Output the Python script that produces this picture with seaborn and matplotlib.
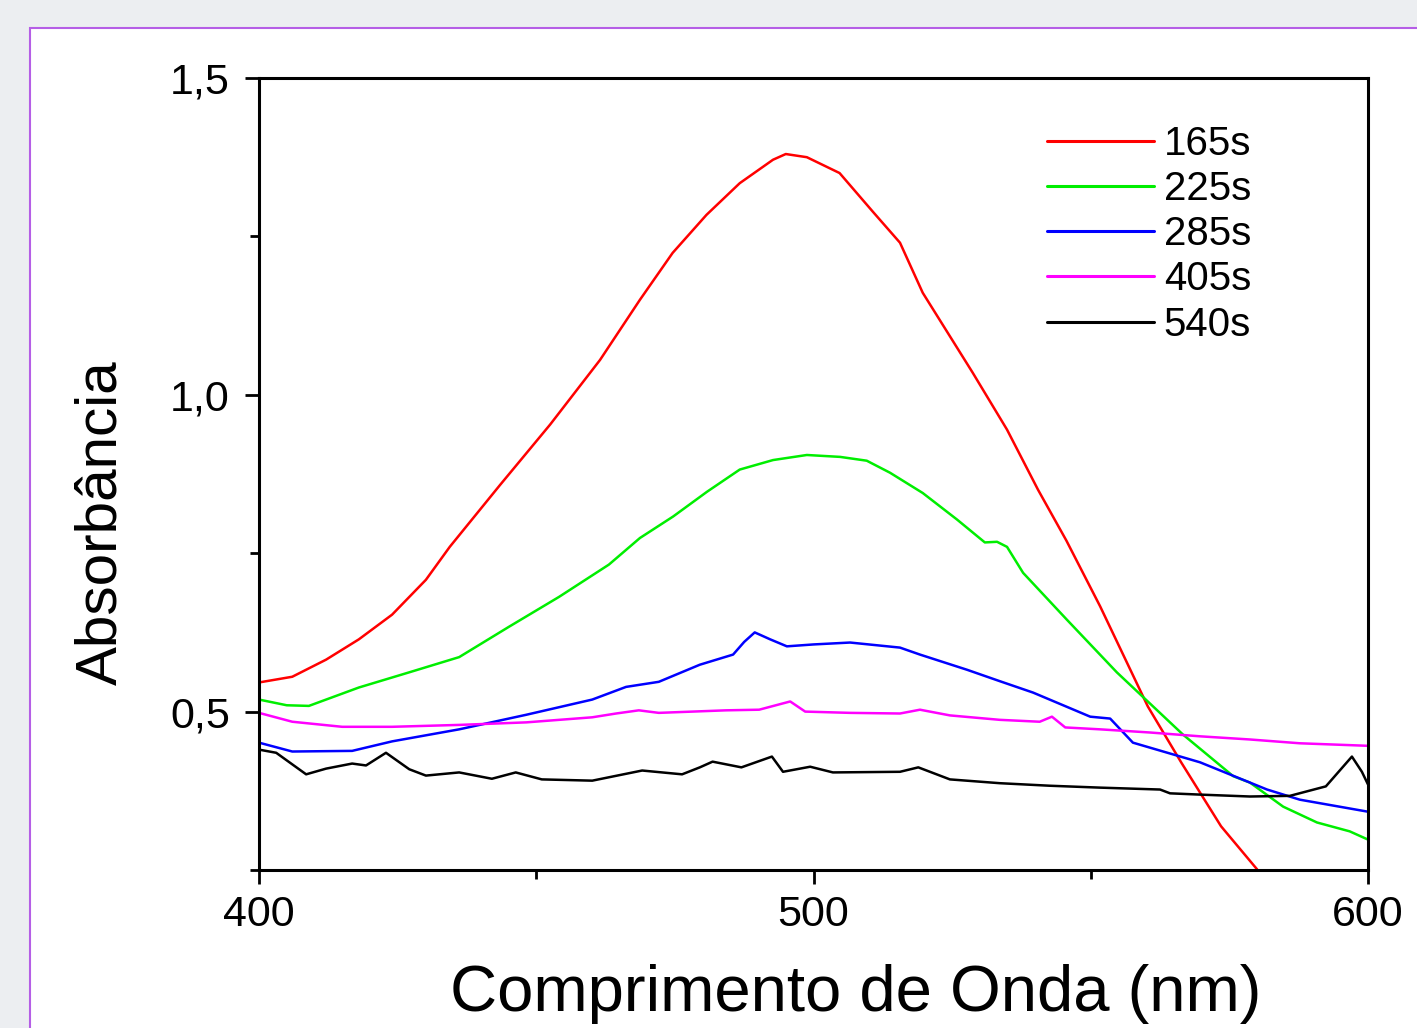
import matplotlib
matplotlib.use("Agg")
import matplotlib.pyplot as plt
import seaborn as sns
import numpy as np
from matplotlib.patches import Rectangle
from matplotlib.ticker import FixedLocator, FuncFormatter

# ---------------- data ----------------
labels = ["165s", "225s", "285s", "405s", "540s"]
colors = ["#ff0000", "#00ee00", "#0000ff", "#ff00ff", "#000000"]

x_165 = [400, 406, 412.1, 418, 424, 430.1, 434.4, 443.5, 452.5, 461.5, 468.7, 474.6, 480.7,
         486.7, 492.7, 495, 498.8, 504.7, 510.7, 515.6, 519.7, 528.7, 534.9, 540.5, 545.6,
         551.7, 560.3, 566.3, 573.5, 580]
y_165 = [0.546, 0.555, 0.582, 0.614, 0.653, 0.708, 0.760, 0.858, 0.953, 1.055, 1.150, 1.224, 1.284,
         1.334, 1.371, 1.380, 1.375, 1.350, 1.289, 1.240, 1.161, 1.035, 0.945, 0.850, 0.770,
         0.666, 0.508, 0.420, 0.319, 0.251]

x_225 = [400, 405, 409, 418, 427.1, 436.1, 445.1, 454.1, 463.1, 468.7, 474.7, 480.8, 486.7, 492.7,
         498.8, 504.8, 509.6, 513.8, 519.7, 525.9, 530.9, 533.1, 534.9, 537.8, 545.7, 554.7,
         566.6, 575.7, 578.7, 584.7, 590.8, 596.7, 600]
y_225 = [0.519, 0.510, 0.509, 0.538, 0.562, 0.586, 0.634, 0.681, 0.732, 0.774, 0.808, 0.847, 0.882, 0.897,
         0.905, 0.902, 0.896, 0.877, 0.845, 0.803, 0.767, 0.768, 0.760, 0.719, 0.645, 0.562,
         0.464, 0.398, 0.388, 0.350, 0.325, 0.311, 0.298]

x_285 = [400, 406, 416.8, 424, 436.1, 448.2, 460.1, 466.2, 472.1, 479.5, 485.5, 487.5, 489.4, 492.2,
         495.2, 500, 506.6, 515.6, 519.2, 527.7, 533.6, 539.6, 549.9, 553.5, 557.6, 569.7,
         581.8, 587.7, 600]
y_285 = [0.451, 0.437, 0.438, 0.453, 0.472, 0.495, 0.519, 0.539, 0.547, 0.574, 0.590, 0.610, 0.625, 0.614,
         0.603, 0.606, 0.609, 0.601, 0.590, 0.566, 0.548, 0.530, 0.492, 0.489, 0.451, 0.420,
         0.377, 0.361, 0.342]

x_405 = [400, 406, 415, 424, 436.1, 448.2, 460.1, 464.4, 468.5, 472.1, 484.2, 490.2, 495.8, 498.5,
         506.6, 515.6, 519.2, 524.6, 533.6, 540.8, 543, 545.4, 551.7, 560.7, 569.7, 578.7, 587.7, 600]
y_405 = [0.498, 0.484, 0.476, 0.476, 0.479, 0.483, 0.491, 0.497, 0.502, 0.498, 0.502, 0.503, 0.516, 0.500,
         0.498, 0.497, 0.503, 0.494, 0.487, 0.484, 0.492, 0.475, 0.472, 0.467, 0.461, 0.456, 0.450, 0.446]

x_540 = [400, 403.1, 408.5, 412.1, 416.8, 419.3, 422.9, 427.1, 430.1, 436.1, 442, 446.3, 451, 460.1,
         469.1, 476.3, 479.5, 481.8, 487, 492.5, 494.5, 499.4, 503.5, 515.6, 518.9, 524.6, 533.6,
         542.6, 551.7, 562.5, 564.3, 569.7, 578.7, 585.9, 592.4, 597.1, 598.9, 600]
y_540 = [0.440, 0.435, 0.401, 0.410, 0.418, 0.415, 0.435, 0.409, 0.399, 0.404, 0.394, 0.404, 0.393, 0.391,
         0.407, 0.401, 0.412, 0.421, 0.412, 0.429, 0.405, 0.413, 0.404, 0.405, 0.412, 0.393, 0.387,
         0.383, 0.380, 0.377, 0.371, 0.369, 0.366, 0.367, 0.382, 0.429, 0.405, 0.385]

series_x = [x_165, x_225, x_285, x_405, x_540]
series_y = [y_165, y_225, y_285, y_405, y_540]

x_major = [400, 500, 600]
x_minor = [450, 550]
y_major = [0.5, 1.0, 1.5]
y_minor = [0.25, 0.75, 1.25]
x_title = "Comprimento de Onda (nm)"
y_title = "Absorbância"

# ---------------- figure ----------------
sns.set_style("white")
plt.rcParams["font.family"] = ["Liberation Sans", "DejaVu Sans"]
plt.rcParams["text.color"] = "black"
plt.rcParams["axes.labelcolor"] = "black"
plt.rcParams["xtick.color"] = "black"
plt.rcParams["ytick.color"] = "black"

W, H = 1417, 1028
fig = plt.figure(figsize=(W / 100, H / 100), dpi=100, facecolor="#eceef1")
fig.patches.append(Rectangle((30 / W, -0.01), 1.0, 1 - 28 / H + 0.01, transform=fig.transFigure,
                             facecolor="white", edgecolor="#b55ee6", linewidth=1.5, zorder=-10))

ax = fig.add_axes([259 / W, 1 - 870 / H, (1368 - 259) / W, (870 - 78) / H])
ax.set_facecolor("white")

for xs, ys, lab, col in zip(series_x, series_y, labels, colors):
    sns.lineplot(x=xs, y=ys, ax=ax, color=col, label=lab, linewidth=1.8, sort=False, estimator=None)

ax.set_xlim(400, 600)
ax.set_ylim(0.25, 1.5)

ax.xaxis.set_major_locator(FixedLocator(x_major))
ax.xaxis.set_minor_locator(FixedLocator(x_minor))
ax.yaxis.set_major_locator(FixedLocator(y_major))
ax.yaxis.set_minor_locator(FixedLocator(y_minor))
ax.xaxis.set_major_formatter(FuncFormatter(lambda v, p: f"{v:.0f}"))
ax.yaxis.set_major_formatter(FuncFormatter(lambda v, p: f"{v:.1f}".replace(".", ",")))

for s in ax.spines.values():
    s.set_linewidth(2.2)
    s.set_color("black")

ax.tick_params(axis="both", which="major", direction="out", length=10, width=2, labelsize=31,
               colors="black", labelcolor="black", bottom=True, left=True, top=False, right=False)
ax.tick_params(axis="both", which="minor", direction="out", length=6.5, width=2,
               bottom=True, left=True, top=False, right=False)
ax.tick_params(axis="y", which="major", pad=11)
ax.tick_params(axis="x", which="major", pad=8)

ax.set_xlabel(x_title, fontsize=47, color="black")
ax.xaxis.set_label_coords(0.538, -0.119)
ax.set_ylabel(y_title, fontsize=42, color="black")
ax.yaxis.set_label_coords(-0.118, 0.438)

leg = ax.legend(loc="upper left", bbox_to_anchor=(0.7105, 0.941), frameon=False, fontsize=29,
                handlelength=2.65, handletextpad=0.25, labelspacing=0.18, borderpad=0, borderaxespad=0)
for line in leg.get_lines():
    line.set_linewidth(2.2)
for t in leg.get_texts():
    t.set_color("black")

fig.savefig("out.png", dpi=100, facecolor=fig.get_facecolor())
